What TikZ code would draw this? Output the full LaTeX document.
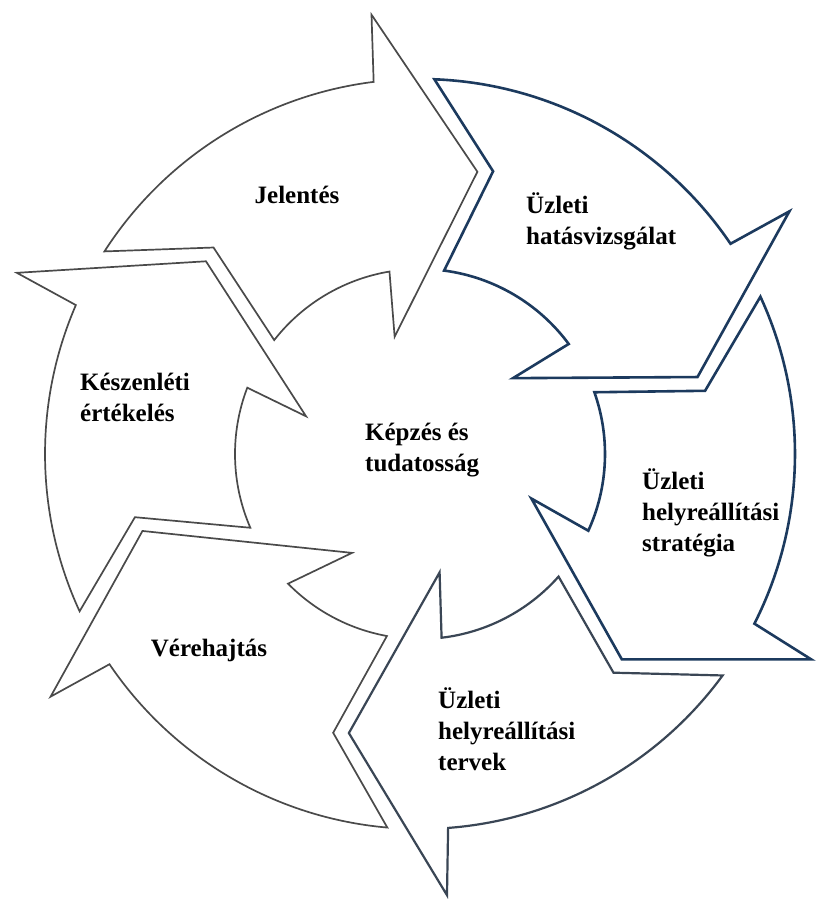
\documentclass[tikz,border=0pt]{standalone}
\usepackage{fontspec}
\setmainfont{Liberation Serif}
\definecolor{greyline}{HTML}{4A4A4A}
\definecolor{navyline}{HTML}{1C3A5E}
\definecolor{slateline}{HTML}{3A4655}
\begin{document}
\begin{tikzpicture}[x=1pt, y=1pt,
    cyclearrow/.style={fill=white, line join=miter},
    greyarrow/.style={cyclearrow, draw=greyline, line width=1.7pt},
    navyarrow/.style={cyclearrow, draw=navyline, line width=2.6pt},
    slatearrow/.style={cyclearrow, draw=slateline, line width=2.2pt},
    arrowtext/.style={font=\bfseries\fontsize{25}{31}\selectfont, align=left, inner sep=0pt}]
  \useasboundingbox (-420,-445) rectangle (395,454);
  \foreach \h/\p/\ie/\ib/\ti/\s in {78.5/138/21/23.7/4/greyarrow, 15.5/78.5/21/23.7/4/navyarrow,
      -45.5/15.5/21/23.7/4/navyarrow, -104.3/-45.5/21/23.7/4/slatearrow,
      -164.5/-104.3/29/40/4/greyarrow, -222/-164.5/21/23.7/8/greyarrow}
    \draw[\s] ({\p+9.3}:375) arc[start angle={\p+9.3}, end angle={\h+18.6}, radius=375pt]
      -- ({\h+17.8}:442) -- (\h:288) -- ({\h+\ib}:120) -- ({\h+\ie}:185)
      arc[start angle={\h+\ie}, end angle={\p+\ti}, radius=185pt] -- ({\p-3}:292) -- cycle;
  \node[arrowtext] (jelentes) at (-123,259) {Jelentés};
  \node[arrowtext, anchor=west] (hatas) at (106,233) {Üzleti\\hatásvizsgálat};
  \node[arrowtext, anchor=west] (keszen) at (-340,57) {Készenléti\\értékelés};
  \node[arrowtext, anchor=west] (kepzes) at (-55,4) {Képzés és\\tudatosság};
  \node[arrowtext, anchor=west] (strategia) at (222,-59) {Üzleti\\helyreállítási\\stratégia};
  \node[arrowtext] (vegre) at (-211,-196) {Vérehajtás};
  \node[arrowtext, anchor=west] (tervek) at (18,-275) {Üzleti\\helyreállítási\\tervek};
\end{tikzpicture}
\end{document}
